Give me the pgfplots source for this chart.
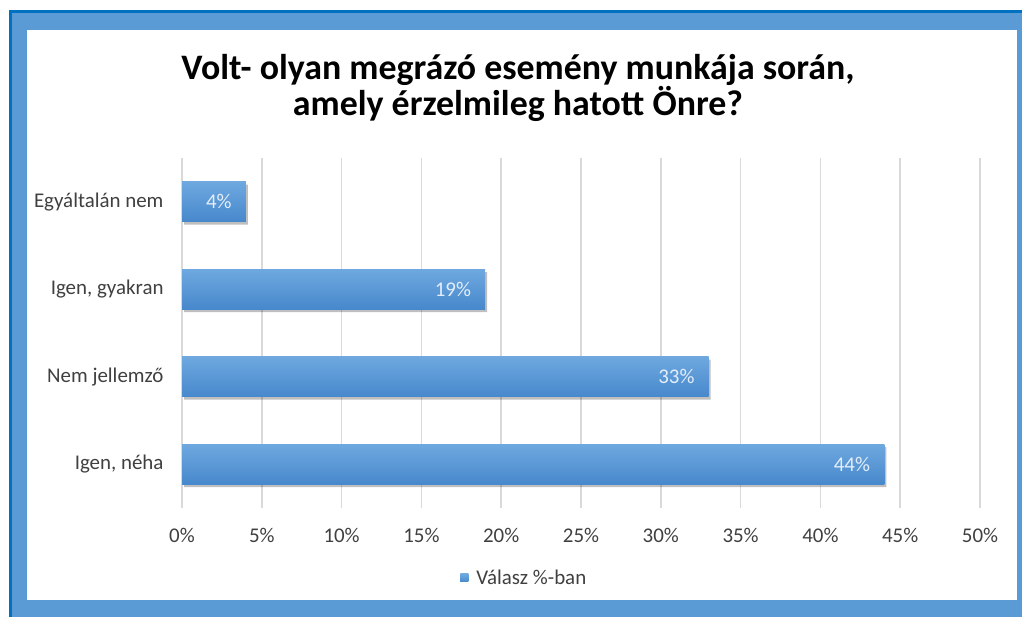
\documentclass[border=0pt]{standalone}
\usepackage{pgfplots}
\pgfplotsset{compat=1.18}
\usepackage{fontspec}
\setmainfont{Carlito}
\definecolor{frameDark}{HTML}{0070C0}
\definecolor{frameLight}{HTML}{5B9BD5}
\definecolor{barTop}{HTML}{6EA8DF}
\definecolor{barBot}{HTML}{4788CC}
\definecolor{gridGray}{HTML}{D9D9D9}
\definecolor{labelGray}{HTML}{404040}
\definecolor{valText}{HTML}{E4EEF9}
\begin{document}
\begin{tikzpicture}[x=1bp,y=1bp]
\useasboundingbox (0,0) rectangle (1022,617);
% frame
\fill[frameDark] (9,607) rectangle (1040,-20);
\fill[frameLight] (12,604) rectangle (1040,-20);
\fill[white] (27,587) rectangle (1017,17);
\node[font=\fontsize{36}{37}\selectfont\bfseries, align=center] at (518,529)
  {Volt- olyan megrázó esemény munkája során,\\amely érzelmileg hatott Önre?};
\begin{axis}[
  at={(182bp,109bp)}, anchor=south west,
  scale only axis, width=798bp, height=350bp,
  xbar, bar width=40bp, bar shift=0bp,
  xmin=0, xmax=50, ymin=-0.5, ymax=3.5,
  xtick={0,5,...,50},
  xticklabel={\pgfmathprintnumber[assume math mode=true]{\tick}\%},
  ytick={0,1,2,3},
  yticklabels={{Igen, néha},{Nem jellemző},{Igen, gyakran},{Egyáltalán nem}},
  axis line style={draw=none}, major tick length=0pt,
  xmajorgrids, grid style={gridGray, line width=1.5bp},
  tick label style={font=\fontsize{21}{23}\selectfont, text=labelGray},
  xticklabel style={yshift=-17bp},
  yticklabel style={xshift=-15bp},
  legend style={at={(0.429,-0.2)}, anchor=center, draw=none,
    font=\fontsize{21}{23}\selectfont, text=labelGray},
  legend image code/.code={\path (0bp,0bp) -- (14bp,0bp);
    \fill[frameLight] (0bp,-4bp) rectangle (8bp,4bp);},
  barstyle/.style={draw=none, top color=barTop, bottom color=barBot,
    nodes near coords={\pgfmathprintnumber[assume math mode=true]{\pgfplotspointmeta}\%},
    every node near coord/.append style={anchor=east, inner sep=0pt, xshift=-14bp,
      text=valText, font=\fontsize{21}{23}\selectfont}},
]
% shadow
\addplot[draw=none, fill=black, fill opacity=0.25, xshift=2bp, yshift=-3bp, forget plot]
  coordinates {(44,0) (33,1) (19,2) (4,3)};
% one plot per bar so that each bar gets its own gradient
\addplot[barstyle] coordinates {(44,0)};
\addlegendentry{Válasz \%-ban}
\addplot[barstyle, forget plot] coordinates {(33,1)};
\addplot[barstyle, forget plot] coordinates {(19,2)};
\addplot[barstyle, forget plot] coordinates {(4,3)};
\end{axis}
\end{tikzpicture}
\end{document}
